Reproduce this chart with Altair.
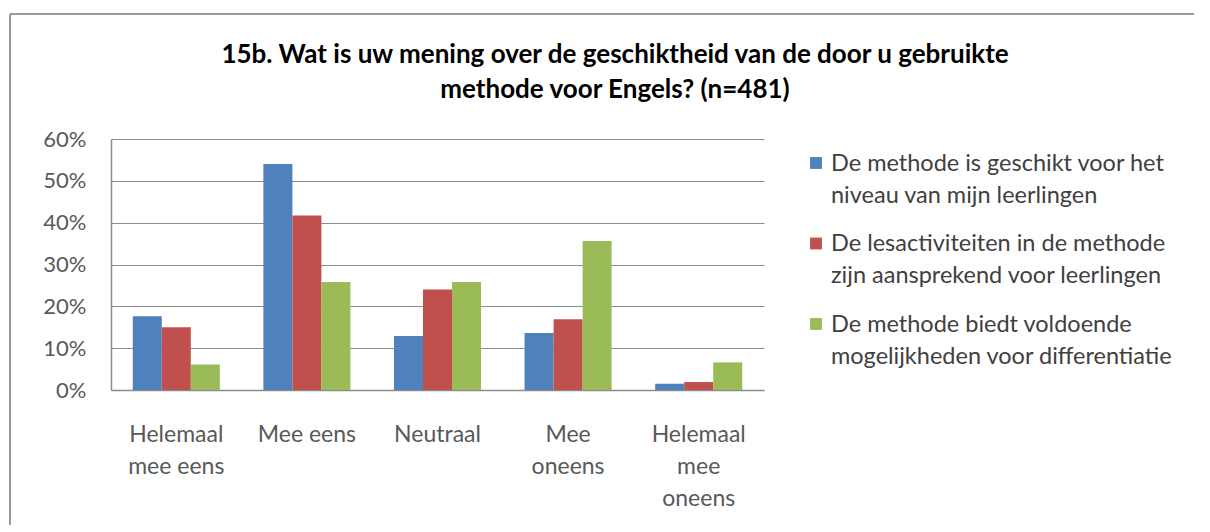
import altair as alt
import pandas as pd

# ---------------- data ----------------
categories = ["Helemaal mee eens", "Mee eens", "Neutraal", "Mee oneens", "Helemaal mee oneens"]
category_label_lines = [["Helemaal", "mee eens"], ["Mee eens"], ["Neutraal"], ["Mee", "oneens"], ["Helemaal", "mee", "oneens"]]

series_names = [
    "De methode is geschikt voor het niveau van mijn leerlingen",
    "De lesactiviteiten in de methode zijn aansprekend voor leerlingen",
    "De methode biedt voldoende mogelijkheden voor differentiatie",
]
series_label_lines = [
    ["De methode is geschikt voor het", "niveau van mijn leerlingen"],
    ["De lesactiviteiten in de methode", "zijn aansprekend voor leerlingen"],
    ["De methode biedt voldoende", "mogelijkheden voor differentiatie"],
]
series_colors = ["#4F81BD", "#C0504D", "#9BBB59"]

values_geschikt = [0.176, 0.540, 0.129, 0.136, 0.015]
values_aansprekend = [0.150, 0.417, 0.240, 0.169, 0.019]
values_differentiatie = [0.061, 0.258, 0.258, 0.356, 0.066]

y_ticks = [0, 0.1, 0.2, 0.3, 0.4, 0.5, 0.6]
title_lines = ["15b. Wat is uw mening over de geschiktheid van de door u gebruikte",
               "methode voor Engels? (n=481)"]

# ---------------- tables ----------------
all_values = [values_geschikt, values_aansprekend, values_differentiatie]
rows = []
for s, vals in zip(series_names, all_values):
    for c, v in zip(categories, vals):
        rows.append({"cat": c, "series": s, "value": v})
df = pd.DataFrame(rows)

legend_df = pd.DataFrame({
    "series": series_names,
    "idx": list(range(len(series_names))),
    "label": ["\n".join(l) for l in series_label_lines],
})

# label expression for multi-line category labels
expr = "datum.label"
for c, lines in reversed(list(zip(categories, category_label_lines))):
    arr = "[" + ",".join("'" + l + "'" for l in lines) + "]"
    expr = f"datum.label == '{c}' ? {arr} : ({expr})"

FONT = "Lato"
GRID = "#8c8c8c"
W, H = 653, 251

color_scale = alt.Scale(domain=series_names, range=series_colors)

bars = alt.Chart(df).mark_bar().encode(
    x=alt.X("cat:N", sort=categories,
            scale=alt.Scale(paddingInner=1/3, paddingOuter=1/6),
            axis=alt.Axis(title=None, labelAngle=0, labelExpr=expr, ticks=False,
                          domainColor=GRID, domainWidth=1.5, labelPadding=33,
                          labelFontSize=23, labelLineHeight=32, labelFont=FONT,
                          labelColor="#595959", labelBaseline="top")),
    xOffset=alt.XOffset("series:N", sort=series_names),
    y=alt.Y("value:Q", scale=alt.Scale(domain=[0, 0.6]),
            axis=alt.Axis(title=None, values=y_ticks, format=".0%", ticks=False,
                          grid=True, gridColor=GRID, gridWidth=1.2,
                          domainColor=GRID, domainWidth=1.5, labelPadding=25,
                          labelFontSize=22, labelFont=FONT, labelColor="#595959")),
    color=alt.Color("series:N", scale=color_scale, legend=None),
)

leg_y = alt.Y("idx:Q", scale=alt.Scale(domain=[-0.298, 2.82], reverse=True), axis=None)

legend_sym = alt.Chart(legend_df).mark_square(size=140, opacity=1).encode(
    x=alt.value(705), y=leg_y,
    color=alt.Color("series:N", scale=color_scale, legend=None),
)
legend_txt = alt.Chart(legend_df).mark_text(
    align="left", baseline="alphabetic", dy=8, lineBreak="\n", lineHeight=32,
    fontSize=23.5, font=FONT, color="#404040",
).encode(x=alt.value(720), y=leg_y, text="label:N")

one = pd.DataFrame({"k": [0]})
title = alt.Chart(one).mark_text(
    text=title_lines, align="center", baseline="middle", lineHeight=35,
    fontSize=26, font=FONT, fontWeight="bold", color="#000000",
).encode(x=alt.value(504), y=alt.value(-84))

border_top = alt.Chart(one).mark_rule(color="#9a9a9a", strokeWidth=2, clip=False).encode(
    x=alt.value(-101), x2=alt.value(1083), y=alt.value(-125))
border_left = alt.Chart(one).mark_rule(color="#9a9a9a", strokeWidth=2, clip=False).encode(
    x=alt.value(-101), y=alt.value(-125), y2=alt.value(386))

chart = alt.layer(bars, legend_sym, legend_txt, title, border_top, border_left).resolve_scale(
    y="independent"
).properties(
    width=W, height=H,
    padding={"left": 1, "top": 5, "right": 0, "bottom": 0},
).configure_view(stroke=None)

chart.save("out.html", embed_options={"renderer": "svg", "actions": False})
